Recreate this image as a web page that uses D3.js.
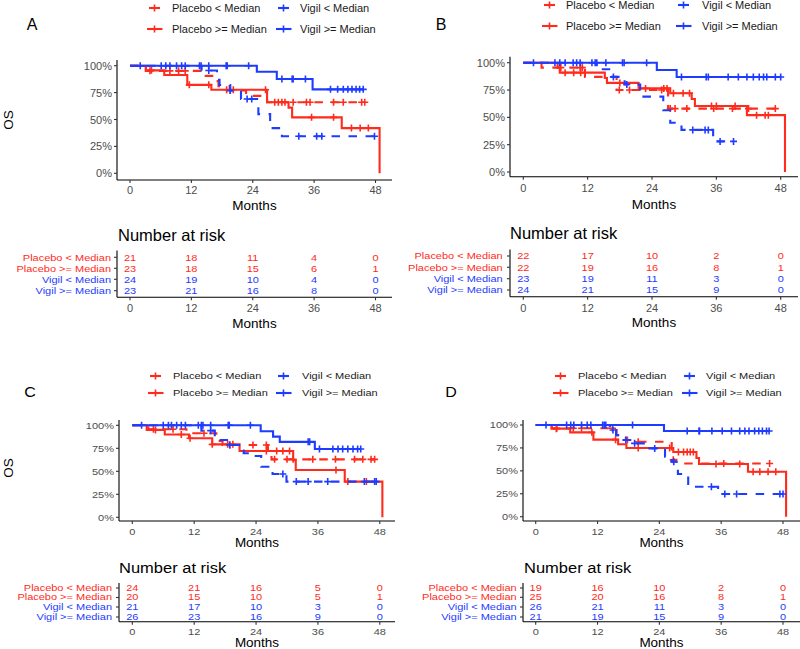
<!DOCTYPE html>
<html><head><meta charset="utf-8">
<script src="https://cdn.jsdelivr.net/npm/d3@7"></script>
<style>body{margin:0;background:#fff}svg{display:block}</style>
</head><body>
<svg id="chart" width="800" height="649"></svg>
<script>
// ---------- data ----------
const monthTicks = [0, 12, 24, 36, 48];
const survTicks = [0, 0.25, 0.5, 0.75, 1];
const groupNames = ["Placebo < Median", "Placebo >= Median", "Vigil < Median", "Vigil >= Median"];

// Panel A
const A_placeboLow_steps = [[0,1],[3.1,0.952],[14.8,0.905],[16.9,0.857],[17.3,0.81],[19.5,0.77],[22.7,0.72],[26.8,0.66]];
const A_placeboLow_censor = [3.9,7.8,9.5,10.8,19.6,28.3,29.0,29.7,30.3,31.9,34.5,35.2,39.8,41.7,45.3,45.9];
const A_placeboHigh_steps = [[0,1],[3.1,0.957],[6.7,0.913],[11.2,0.822],[15.9,0.777],[26.8,0.66],[31.0,0.61],[31.7,0.52],[41.4,0.42],[48.8,0]];
const A_placeboHigh_censor = [4.2,11.6,15.4,18.9,20.2,26.5,35.5,39.8,43.3,45.0,46.6];
const A_vigilLow_steps = [[0,1],[14.0,0.955],[17.0,0.87],[17.5,0.82],[19.6,0.77],[21.7,0.69],[25.1,0.55],[27.4,0.42],[29.7,0.345]];
const A_vigilLow_censor = [15.4,19.6,22.9,23.8,33.0,36.5,37.5,47.8];
const A_vigilHigh_steps = [[0,1],[24.8,0.944],[28.7,0.876],[35.7,0.78]];
const A_vigilHigh_censor = [2.0,6.1,7.0,7.8,9.1,10.1,10.8,13.6,13.9,15.4,18.8,19.0,23.2,29.7,31.7,31.9,34.3,39.2,40.6,41.7,42.6,43.4,44.2,44.9,45.6];
const A_risk = [[21,18,11,4,0],[23,18,15,6,1],[24,19,10,4,0],[23,21,16,8,0]];

// Panel B
const B_placeboLow_steps = [[0,1],[3.4,0.955],[11.5,0.87],[17.4,0.75],[27.0,0.58]];
const B_placeboLow_censor = [7.0,10.6,11.0,17.9,19.8,25.8,27.4,28.3,30.5,35.5,39.0,42.0,47.0];
const B_placeboHigh_steps = [[0,1],[6.4,0.955],[6.8,0.909],[15.2,0.86],[15.6,0.815],[21.5,0.765],[27.4,0.72],[31.4,0.668],[32.0,0.604],[41.7,0.52],[48.8,0]];
const B_placeboHigh_censor = [7.8,9.4,10.7,18.0,22.8,26.2,26.8,28.0,29.8,31.0,35.1,36.0,39.5,43.5,45.1,45.7];
const B_vigilLow_steps = [[0,1],[13.7,0.94],[16.5,0.87],[18.9,0.8],[21.8,0.69],[26.1,0.565],[27.4,0.45],[29.5,0.385],[35.4,0.28]];
const B_vigilLow_censor = [16.8,19.3,31.6,33.9,34.5,36.7,39.2];
const B_vigilHigh_steps = [[0,1],[24.9,0.933],[28.6,0.869]];
const B_vigilHigh_censor = [1.9,5.9,6.8,7.8,9.3,9.95,10.6,12.8,13.4,13.7,15.4,18.5,18.8,23.0,29.5,34.1,34.5,38.2,40.1,41.7,42.9,44.0,44.8,45.4,47.0,48.0];
const B_risk = [[22,17,10,2,0],[22,19,16,8,1],[23,19,11,3,0],[24,21,15,9,0]];

// Panel C
const C_placeboLow_steps = [[0,1],[3.1,0.957],[10.5,0.913],[16.3,0.83],[17.5,0.786],[26.3,0.714],[27.0,0.63]];
const C_placeboLow_censor = [4.1,7.9,13.9,18.9,23.4,26.0,27.6,30.0,31.2,35.0,39.4,43.1,44.7,46.3,47.0];
const C_placeboHigh_steps = [[0,1],[2.8,0.95],[6.3,0.9],[11.0,0.859],[15.5,0.793],[20.8,0.72],[31.2,0.62],[31.7,0.514],[41.2,0.388],[48.5,0]];
const C_placeboHigh_censor = [4.5,9.5,11.2,15.5,18.5,19.5,26.0,28.0,29.2,30.5,39.5,41.8,45.4];
const C_vigilLow_steps = [[0,1],[13.4,0.942],[16.0,0.877],[16.6,0.84],[18.9,0.786],[21.2,0.725],[21.6,0.696],[23.3,0.667],[25.0,0.55],[27.2,0.47],[29.9,0.388]];
const C_vigilLow_censor = [15.2,18.9,29.2,31.8,34.1,37.9,45.0,47.0,47.3];
const C_vigilHigh_steps = [[0,1],[24.9,0.935],[27.3,0.877],[28.6,0.82],[35.4,0.743]];
const C_vigilHigh_censor = [1.8,6.0,7.0,7.6,8.6,9.5,10.3,12.8,13.4,13.7,15.2,18.6,18.8,22.9,34.1,34.4,36.3,38.9,39.9,40.8,41.8,42.8,43.7,44.3];
const C_risk = [[24,21,16,5,0],[20,15,10,5,1],[21,17,10,3,0],[26,23,16,9,0]];

// Panel D
const D_placeboLow_steps = [[0,1],[3.1,0.964],[15.7,0.89],[17.5,0.836],[19.5,0.818],[26.4,0.62],[27.3,0.58]];
const D_placeboLow_censor = [4.1,7.3,8.9,14.9,17.8,19.9,26.7,36.5,45.4];
const D_placeboHigh_steps = [[0,1],[3.1,0.96],[6.7,0.92],[11.2,0.84],[16.0,0.79],[17.6,0.75],[26.7,0.705],[31.2,0.64],[31.7,0.575],[41.2,0.49],[48.6,0]];
const D_placeboHigh_censor = [4.0,10.9,15.5,19.9,26.0,27.7,28.7,29.4,30.0,30.6,35.0,39.6,42.2,43.5,45.1,46.6];
const D_vigilLow_steps = [[0,1],[14.4,0.945],[15.6,0.89],[17.1,0.836],[18.9,0.8],[21.5,0.745],[25.1,0.655],[26.4,0.6],[27.6,0.465],[29.6,0.327],[35.4,0.247]];
const D_vigilLow_censor = [15.0,17.5,19.2,23.1,26.8,34.1,36.7,39.0,47.4,48.0];
const D_vigilHigh_steps = [[0,1],[24.9,0.934]];
const D_vigilHigh_censor = [2.0,6.0,6.8,7.4,8.9,10.0,10.7,13.0,13.3,13.6,18.8,29.4,31.7,31.8,34.2,36.2,38.0,39.6,40.6,41.4,42.5,43.3,44.0,44.8,45.3];
const D_risk = [[19,16,10,2,0],[25,20,16,8,1],[26,21,11,3,0],[21,19,15,9,0]];

// ---------- styles / layout ----------
const RED = "#FF2B1C", BLUE = "#1E3CFF";
const groupStyle = [
  {color: RED, dash: "8.5,8.5"},
  {color: RED, dash: null},
  {color: BLUE, dash: "8.5,8.5"},
  {color: BLUE, dash: null}
];
const FONT = "'Liberation Sans', Arial, Helvetica, sans-serif";

const panels = [
  {label: "A", steps: [A_placeboLow_steps, A_placeboHigh_steps, A_vigilLow_steps, A_vigilHigh_steps],
   censor: [A_placeboLow_censor, A_placeboHigh_censor, A_vigilLow_censor, A_vigilHigh_censor], risk: A_risk,
   L: {sy: 1, tsy: 0.85, labelX: 32, labelY: 24, legY: [8, 29], legKeyX: [147, 276], legTextX: [172, 300],
       axisX: 117, plotTop: 60, axisY: 180, axisRight: 392, x0: 130, x48: 375.5, y1: 65.7, y0: 173.3,
       tickY: 190, monthsY: 205, os: [8, 120],
       tTitleX: 118, tTitleY: 235, rows: [257.3, 268.3, 279.3, 290.7], tTop: 250.5, tAxisY: 297.3,
       tTickY: 308, tMonthsY: 323, rowRight: 111}},
  {label: "B", steps: [B_placeboLow_steps, B_placeboHigh_steps, B_vigilLow_steps, B_vigilHigh_steps],
   censor: [B_placeboLow_censor, B_placeboHigh_censor, B_vigilLow_censor, B_vigilHigh_censor], risk: B_risk,
   L: {sy: 1, tsy: 0.85, labelX: 441, labelY: 24, legY: [5, 26], legKeyX: [542, 676], legTextX: [566, 702],
       axisX: 510, plotTop: 56.7, axisY: 176.7, axisRight: 798, x0: 523.3, x48: 780.7, y1: 62.7, y0: 172,
       tickY: 188, monthsY: 204, os: null,
       tTitleX: 510, tTitleY: 233, rows: [256, 267.3, 278.7, 290], tTop: 249.5, tAxisY: 296.7,
       tTickY: 307.5, tMonthsY: 322, rowRight: 502.7}},
  {label: "C", steps: [C_placeboLow_steps, C_placeboHigh_steps, C_vigilLow_steps, C_vigilHigh_steps],
   censor: [C_placeboLow_censor, C_placeboHigh_censor, C_vigilLow_censor, C_vigilHigh_censor], risk: C_risk,
   L: {sy: 0.88, tsy: 0.74, labelX: 30, labelY: 392, legY: [376, 393], legKeyX: [148, 276], legTextX: [173, 302],
       axisX: 119, plotTop: 420, axisY: 521, axisRight: 395, x0: 132.3, x48: 379.8, y1: 425.3, y0: 517.3,
       tickY: 531.5, monthsY: 543, os: [8, 468],
       tTitleX: 119, tTitleY: 568, rows: [588, 597.5, 607, 617], tTop: 583, tAxisY: 621.7,
       tTickY: 632, tMonthsY: 643, rowRight: 112}},
  {label: "D", steps: [D_placeboLow_steps, D_placeboHigh_steps, D_vigilLow_steps, D_vigilHigh_steps],
   censor: [D_placeboLow_censor, D_placeboHigh_censor, D_vigilLow_censor, D_vigilHigh_censor], risk: D_risk,
   L: {sy: 0.88, tsy: 0.74, labelX: 451, labelY: 392, legY: [376, 393], legKeyX: [553, 682], legTextX: [578, 706],
       axisX: 523, plotTop: 420, axisY: 521, axisRight: 800, x0: 535.7, x48: 783, y1: 425, y0: 516.7,
       tickY: 531.5, monthsY: 543, os: null,
       tTitleX: 524, tTitleY: 568, rows: [588, 597.3, 607, 617], tTop: 583, tAxisY: 621.7,
       tTickY: 632, tMonthsY: 643, rowRight: 516.7}}
];

const svg = d3.select("#chart").style("font-family", FONT);

function survAt(steps, t) {
  let s = 1;
  for (const [tt, v] of steps) if (tt <= t) s = v;
  return s;
}

function cross(g, cx, cy, color, h) {
  g.append("path")
    .attr("d", `M${cx - h},${cy}H${cx + h}M${cx},${cy - h}V${cy + h}`)
    .attr("stroke", color).attr("stroke-width", 1.6).attr("fill", "none");
}

// text placed at (x, y) centre line, optionally squeezed vertically
function txt(g, x, y, str, size, fill, anchor, sy) {
  return g.append("text")
    .attr("transform", `translate(${x},${y}) scale(1,${sy})`)
    .attr("text-anchor", anchor).attr("dominant-baseline", "central")
    .attr("font-size", size).attr("fill", fill).text(str);
}

panels.forEach(p => {
  const L = p.L;
  const g = svg.append("g");
  const x = d3.scaleLinear().domain([0, 48]).range([L.x0, L.x48]);
  const y = d3.scaleLinear().domain([0, 1]).range([L.y0, L.y1]);

  // panel label
  txt(g, L.labelX, L.labelY, p.label, 16, "#000", "middle", L.sy);

  // legend
  groupNames.forEach((name, i) => {
    const col = i < 2 ? 0 : 1, row = i % 2;
    const st = groupStyle[i];
    const ky = L.legY[row];
    const kx = L.legKeyX[col];
    const c = kx + 7.5;
    if (st.dash) {
      g.append("line").attr("x1", c - 5.5).attr("x2", c + 5.5).attr("y1", ky).attr("y2", ky)
        .attr("stroke", st.color).attr("stroke-width", 2.1);
    } else {
      g.append("line").attr("x1", kx).attr("x2", kx + 15.5).attr("y1", ky).attr("y2", ky)
        .attr("stroke", st.color).attr("stroke-width", 2.1);
    }
    cross(g, c, ky, st.color, 3.5);
    txt(g, L.legTextX[col], ky, name, 11, "#1a1a1a", "start", L.sy);
  });

  // axes of the survival plot
  const axisG = g.append("g");
  axisG.append("line").attr("x1", L.axisX).attr("x2", L.axisX).attr("y1", L.plotTop).attr("y2", L.axisY)
    .attr("stroke", "#000").attr("stroke-width", 1.1);
  axisG.append("line").attr("x1", L.axisX).attr("x2", L.axisRight).attr("y1", L.axisY).attr("y2", L.axisY)
    .attr("stroke", "#000").attr("stroke-width", 1.1);
  survTicks.forEach(v => {
    axisG.append("line").attr("x1", L.axisX - 3).attr("x2", L.axisX).attr("y1", y(v)).attr("y2", y(v))
      .attr("stroke", "#333").attr("stroke-width", 1.1);
    txt(axisG, L.axisX - 5, y(v), d3.format(".0%")(v), 11, "#4d4d4d", "end", L.sy);
  });
  monthTicks.forEach(m => {
    axisG.append("line").attr("x1", x(m)).attr("x2", x(m)).attr("y1", L.axisY).attr("y2", L.axisY + 3)
      .attr("stroke", "#333").attr("stroke-width", 1.1);
    txt(axisG, x(m), L.tickY, m, 11, "#4d4d4d", "middle", L.sy);
  });
  const midX = (L.axisX + L.axisRight) / 2;
  txt(axisG, midX, L.monthsY, "Months", 13.5, "#000", "middle", L.sy);
  if (L.os) {
    axisG.append("text").attr("transform", `translate(${L.os[0]},${L.os[1]}) rotate(-90)`)
      .attr("text-anchor", "middle").attr("dominant-baseline", "central")
      .attr("font-size", 13.5).attr("fill", "#000").text("OS");
  }

  // curves
  const line = d3.line().x(d => x(d[0])).y(d => y(d[1])).curve(d3.curveStepAfter);
  p.steps.forEach((steps, i) => {
    const st = groupStyle[i];
    const cens = p.censor[i];
    const lastT = steps[steps.length - 1][0];
    const end = Math.max(lastT, cens.length ? d3.max(cens) : 0);
    const pts = steps.slice();
    pts.push([end, steps[steps.length - 1][1]]);
    g.append("path").attr("d", line(pts)).attr("fill", "none").attr("stroke", st.color)
      .attr("stroke-width", 2.1).attr("stroke-dasharray", st.dash);
    cens.forEach(t => cross(g, x(t), y(survAt(steps, t)), st.color, 3.5));
  });

  // risk table
  txt(g, L.tTitleX, L.tTitleY, "Number at risk", 16.5, "#000", "start", L.sy);
  g.append("line").attr("x1", L.axisX).attr("x2", L.axisX).attr("y1", L.tTop).attr("y2", L.tAxisY)
    .attr("stroke", "#000").attr("stroke-width", 1.1);
  g.append("line").attr("x1", L.axisX).attr("x2", L.axisRight).attr("y1", L.tAxisY).attr("y2", L.tAxisY)
    .attr("stroke", "#000").attr("stroke-width", 1.1);
  p.risk.forEach((vals, i) => {
    const ry = L.rows[i];
    const col = groupStyle[i].color;
    g.append("line").attr("x1", L.axisX - 3).attr("x2", L.axisX).attr("y1", ry).attr("y2", ry)
      .attr("stroke", "#333").attr("stroke-width", 1.1);
    txt(g, L.rowRight, ry, groupNames[i], 11, col, "end", L.tsy);
    vals.forEach((v, j) => {
      txt(g, x(monthTicks[j]), ry, v, 11, col, "middle", L.tsy);
    });
  });
  monthTicks.forEach(m => {
    g.append("line").attr("x1", x(m)).attr("x2", x(m)).attr("y1", L.tAxisY).attr("y2", L.tAxisY + 3)
      .attr("stroke", "#333").attr("stroke-width", 1.1);
    txt(g, x(m), L.tTickY, m, 11, "#4d4d4d", "middle", L.sy);
  });
  txt(g, midX, L.tMonthsY, "Months", 13.5, "#000", "middle", L.sy);
});
</script>
</body></html>
